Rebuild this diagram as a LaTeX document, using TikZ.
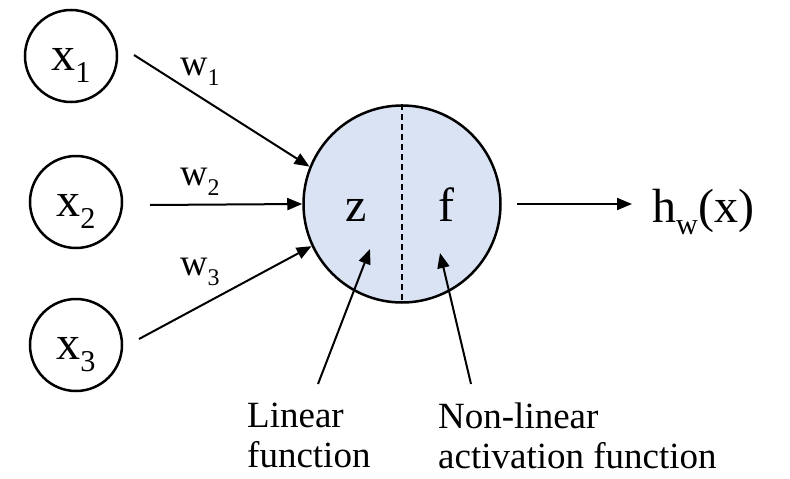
\documentclass[tikz,border=0pt]{standalone}
\usepackage{fontspec}
\setmainfont{Liberation Serif}
\usepackage{graphicx}
\usetikzlibrary{arrows.meta}
\definecolor{nfill}{HTML}{DAE3F3}
\newcommand\lsub[1]{\raisebox{-0.27em}{\scalebox{0.63}{#1}}}
\newcommand\inlab[1]{\raisebox{-14pt}[0pt][0pt]{#1}}
\tikzset{
 inp/.style={circle, draw, line width=2.5pt, minimum size=92pt, inner sep=0pt, font=\fontsize{48}{50}\selectfont},
 neuron/.style={circle, draw, line width=2.5pt, fill=nfill, minimum size=197pt, inner sep=0pt},
 arr/.style={line width=2pt, -{Triangle[length=15pt,width=12pt]}},
 big/.style={font=\fontsize{48}{50}\selectfont, inner sep=0pt},
 wlab/.style={font=\fontsize{38}{42}\selectfont, inner sep=0pt, anchor=base west},
 note/.style={font=\fontsize{37}{40}\selectfont, align=left, inner sep=0pt, anchor=north west},
}
\begin{document}
\begin{tikzpicture}[x=1pt,y=-1pt]
\useasboundingbox (0,0) rectangle (790,479);
\node[inp] (x1) at (71,56) {\inlab{x\lsub{1}}};
\node[inp] (x2) at (76,202) {\inlab{x\lsub{2}}};
\node[inp] (x3) at (76,345) {\inlab{x\lsub{3}}};
\node[neuron] (n) at (402,204) {};
\draw[line width=1.2pt, dash pattern=on 6pt off 4pt] (n.north) -- (n.south);
\node[big, anchor=base] (z) at (356,221) {z};
\node[big, anchor=base] (f) at (446,221) {f};
\node[wlab] (w1) at (180,75) {w\lsub{1}};
\node[wlab] (w2) at (180,185) {w\lsub{2}};
\node[wlab] (w3) at (180,275) {w\lsub{3}};
\coordinate (s1) at (134,55);
\coordinate (s2) at (150,205);
\coordinate (s3) at (139,339);
\draw[arr] (s1) -- (n.158.7);
\draw[arr] (s2) -- (n.180);
\draw[arr] (s3) -- (n.205);
\node[big, anchor=base west] (hw) at (652,222) {h\lsub{w}(x)};
\coordinate (so) at (517,204);
\draw[arr, shorten >=20pt] (so) -- (so -| hw.west);
\node[note] (lin) at (247,403) {Linear\\function};
\node[note] (nonlin) at (438,403) {Non-linear\\activation function};
\coordinate (lz) at (318,384);
\coordinate (tz) at (370,249);
\coordinate (lf) at (471,384);
\coordinate (tf) at (440,253);
\draw[arr] (lz) -- (tz);
\draw[arr] (lf) -- (tf);
\end{tikzpicture}
\end{document}
